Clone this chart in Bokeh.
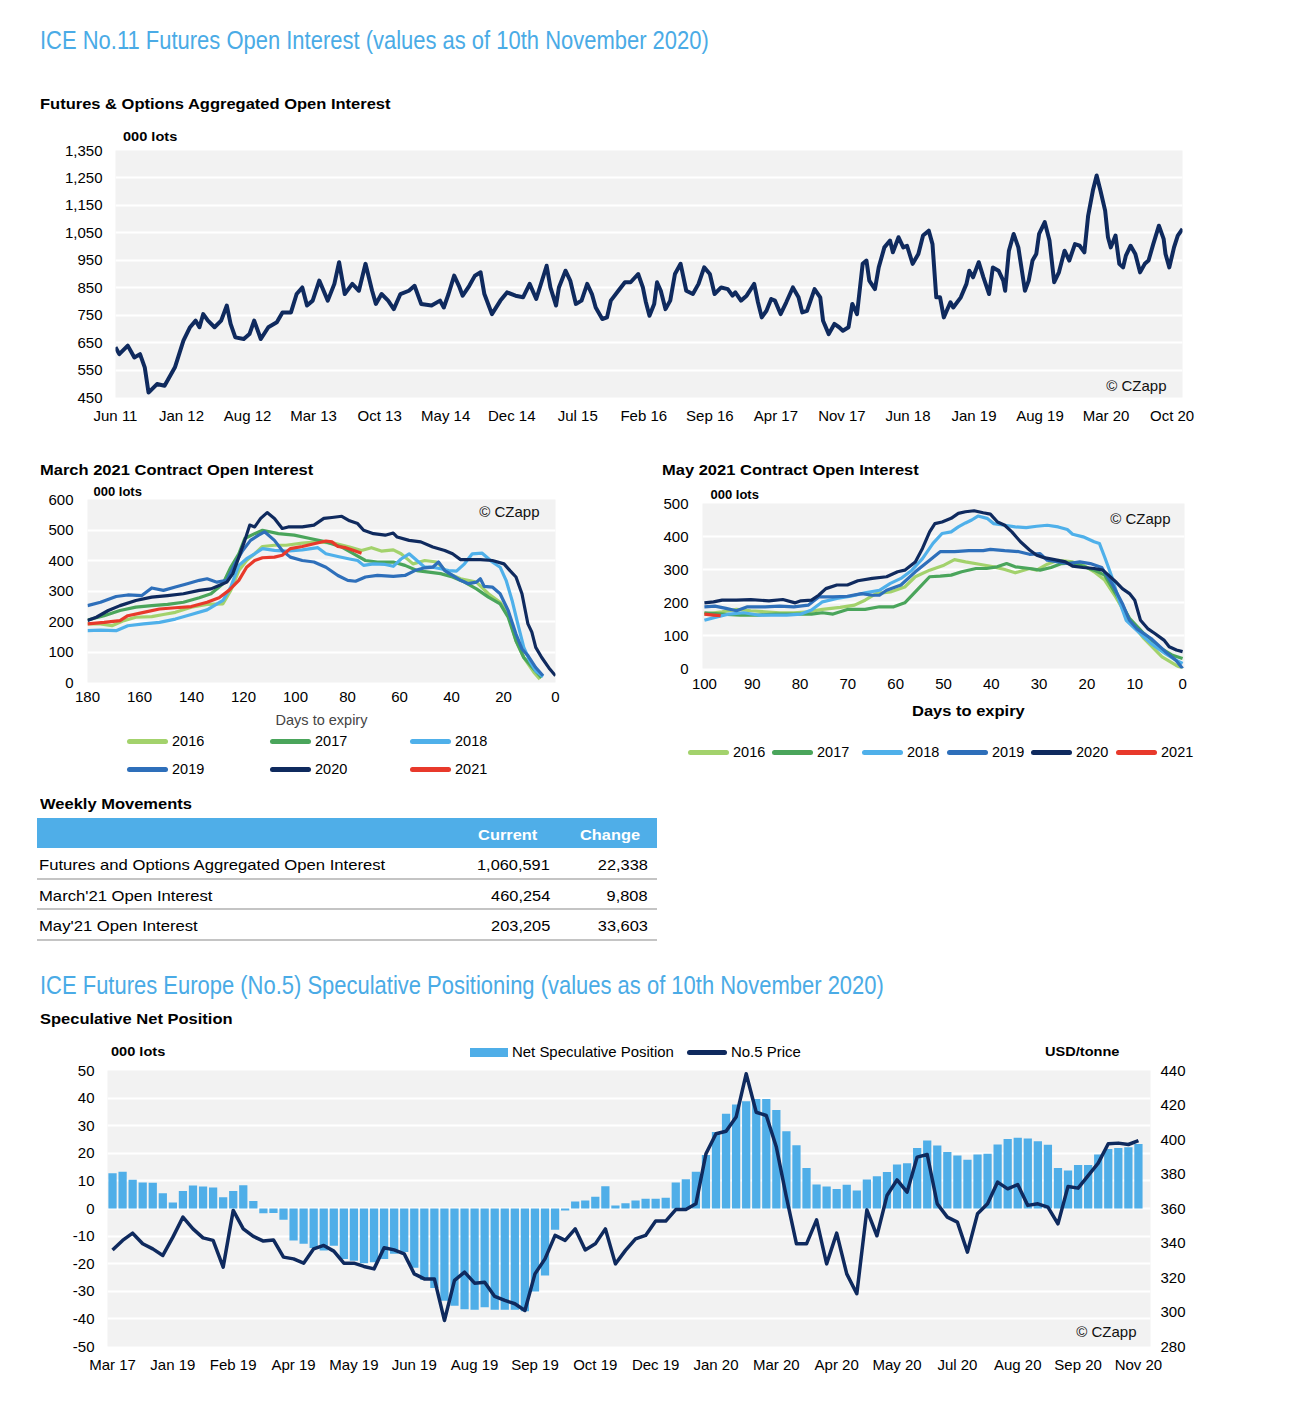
import html
from bokeh.plotting import figure
from bokeh.models import Range1d, LinearAxis, FixedTicker, NumeralTickFormatter, Label, Div, Title
from bokeh.layouts import column, row
from bokeh.embed import file_html
from bokeh.resources import INLINE

# ---------------- data ----------------
# Futures & options aggregated open interest (000 lots); x = months since Jun 2011
oi_month = [0.0, 0.4, 1.3, 2.0, 2.6, 3.1, 3.5, 4.4, 5.2, 6.3,
            7.2, 7.9, 8.5, 8.9, 9.3, 9.8, 10.5, 11.2, 11.8, 12.2,
            12.7, 13.6, 14.2, 14.7, 15.4, 16.2, 17.1, 17.7, 18.6, 19.2,
            19.8, 20.3, 20.9, 21.6, 22.5, 23.2, 23.7, 24.3, 25.1, 25.8,
            26.5, 27.2, 27.6, 28.2, 28.9, 29.5, 30.2, 31.1, 31.7, 32.4,
            33.5, 34.4, 34.8, 35.3, 35.9, 36.4, 36.8, 37.5, 38.1, 38.7,
            39.1, 39.9, 40.8, 41.5, 42.4, 43.2, 43.9, 44.6, 45.7, 46.1,
            46.7, 47.0, 47.7, 48.2, 48.8, 49.4, 50.0, 50.5, 50.9, 51.6,
            52.1, 52.5, 53.3, 54.0, 54.6, 55.4, 55.9, 56.2, 56.6, 57.1,
            57.4, 57.8, 58.3, 58.8, 59.3, 59.9, 60.5, 61.2, 61.8, 62.4,
            63.0, 63.5, 64.2, 64.9, 65.4, 65.7, 66.3, 66.9, 67.7, 68.1,
            68.5, 69.0, 69.5, 69.9, 70.5, 71.1, 71.8, 72.4, 72.8, 73.3,
            74.1, 74.7, 75.0, 75.6, 76.2, 76.7, 77.1, 77.7, 78.1, 78.6,
            79.2, 79.6, 79.9, 80.5, 80.9, 81.5, 82.1, 82.4, 83.0, 83.5,
            83.9, 84.5, 85.1, 85.6, 86.2, 86.6, 87.0, 87.4, 87.8, 88.5,
            88.8, 89.6, 90.2, 90.5, 90.9, 91.5, 92.0, 92.6, 93.0, 93.6,
            94.1, 94.3, 94.7, 95.2, 95.7, 96.4, 96.8, 97.2, 97.6, 97.9,
            98.5, 99.0, 99.5, 100.0, 100.6, 101.1, 101.7, 102.2, 102.7, 103.1,
            103.6, 104.0, 104.4, 104.9, 105.2, 105.5, 106.0, 106.4, 106.8, 107.1,
            107.6, 108.1, 108.6, 109.1, 109.5, 110.0, 110.6, 111.1, 111.3, 111.7,
            112.2, 112.6, 113.1]
oi_value = [633, 608, 639, 596, 608, 560, 468, 499, 493, 560,
            657, 706, 730, 706, 754, 730, 706, 730, 785, 718,
            669, 663, 681, 730, 663, 706, 724, 760, 760, 827,
            851, 785, 803, 876, 803, 864, 943, 827, 864, 839,
            937, 839, 791, 827, 803, 772, 827, 839, 857, 791,
            785, 803, 778, 827, 894, 857, 821, 857, 894, 906,
            827, 754, 803, 833, 821, 815, 864, 809, 930, 851,
            785, 851, 912, 876, 791, 803, 864, 827, 778, 736,
            742, 803, 839, 870, 870, 900, 851, 800, 748, 791,
            870, 839, 772, 803, 900, 937, 839, 827, 864, 924,
            900, 827, 851, 845, 821, 833, 803, 821, 864, 797,
            742, 766, 809, 803, 754, 797, 851, 815, 760, 766,
            845, 815, 730, 681, 718, 706, 693, 706, 791, 754,
            937, 949, 876, 845, 924, 997, 1022, 979, 1034, 997,
            1003, 937, 973, 1040, 1058, 1009, 815, 815, 742, 797,
            778, 815, 864, 912, 888, 943, 888, 827, 924, 912,
            876, 839, 985, 1046, 997, 839, 876, 949, 973, 1046,
            1089, 1022, 870, 906, 985, 949, 1009, 1003, 979, 1113,
            1204, 1259, 1204, 1131, 1034, 997, 1040, 937, 924, 967,
            1003, 973, 906, 937, 949, 1009, 1076, 1028, 973, 924,
            997, 1040, 1064]
oi_tick_labels = ["Jun 11", "Jan 12", "Aug 12", "Mar 13", "Oct 13", "May 14", "Dec 14",
                  "Jul 15", "Feb 16", "Sep 16", "Apr 17", "Nov 17", "Jun 18", "Jan 19",
                  "Aug 19", "Mar 20", "Oct 20"]

years = ["2016", "2017", "2018", "2019", "2020", "2021"]

# March 2021 contract open interest (000 lots) vs days to expiry
mar_days = {
    "2016": [180, 175, 170.6, 166, 161.4, 155.3, 150.8, 146.2, 140.1, 134, 127.9, 124.9, 121.8, 118.8,
             115.7, 112.7, 108.1, 103.6, 97.4, 91.4, 85.3, 79.2, 74.6, 70.8, 67, 62.4, 59.4, 54.8, 50.3,
             45.7, 41.1, 36.5, 30.4, 25.8, 21.3, 18.2, 15.2, 12.2, 8.3, 6],
    "2017": [180, 173.6, 167.5, 161.4, 155.3, 149.2, 143.1, 137, 132.5, 127.9, 124.9, 121.8, 119.5, 115.7,
             112.7, 106.6, 100.5, 94.4, 88.3, 82.2, 77.6, 73.1, 68.5, 62.4, 57.9, 53.3, 48.7, 44.2, 39.6,
             35, 30.4, 25.8, 21.3, 18.2, 15.2, 12.2, 8.3, 5.3],
    "2018": [180, 175, 169, 164.5, 158.4, 152.3, 146.2, 140.1, 134, 127.9, 124.9, 121.8, 118.8, 115.7,
             112.7, 108.1, 103.6, 97.4, 91.4, 88.3, 83.7, 79.2, 76.1, 73.8, 70, 65.5, 62.4, 59.4, 56.3,
             53.3, 50.3, 47.2, 44.2, 41.1, 38.1, 35, 32, 28.2, 24.3, 21.3, 19, 16.7, 14.5, 12.2, 9.9, 7.6, 4.8],
    "2019": [180, 175, 169, 164.5, 159.1, 155.3, 150.8, 146.2, 141.6, 137, 134, 130.2, 126.4, 123.3, 120.3,
             117.3, 114.2, 111.9, 108.1, 105.1, 102, 97.4, 92.9, 88.3, 83.7, 79.9, 76.9, 73.1, 68.5, 62.4,
             57.9, 54.1, 50.3, 47.2, 45, 42.6, 39.6, 36.5, 33.5, 30.4, 28.9, 27.4, 24.3, 21.3, 18.2, 15.2,
             12.9, 10.6, 7.6, 4.8],
    "2020": [180, 176.6, 172, 167.5, 161.4, 155.3, 149.2, 143.1, 137, 132.5, 129.4, 126.4, 124.1, 121.8,
             119.5, 117.6, 115.7, 113.4, 110.9, 108.1, 105.1, 102.8, 97.4, 92.9, 89.1, 86, 82.2, 79.2, 76.1,
             73.8, 70, 65.5, 62.4, 60.9, 56.3, 51.8, 47.2, 42.6, 39.6, 36.5, 33.5, 28.9, 24.3, 19.8, 17.5,
             15.2, 12.9, 10.6, 9.1, 7.6, 5.3, 2.2, 0],
    "2021": [180, 173.6, 167.5, 164.5, 158.4, 152.3, 146.2, 140.1, 134, 129.4, 125.6, 121.8, 118.8, 115.7,
             112.7, 108.1, 105.1, 102, 97.4, 92.9, 88.3, 86, 83.7, 80.7, 77.6, 74.6],
}
mar_oi = {
    "2016": [192, 192, 186, 203, 214, 216, 223, 230, 247, 256, 258, 302, 367, 400, 422, 446, 450, 450, 457,
             461, 457, 444, 433, 442, 431, 435, 422, 389, 400, 395, 357, 340, 329, 291, 263, 225, 137, 82, 33, 11],
    "2017": [205, 219, 236, 247, 252, 256, 263, 278, 291, 324, 378, 422, 472, 488, 499, 488, 483, 472, 461,
             444, 422, 400, 395, 395, 384, 367, 362, 357, 346, 329, 307, 280, 258, 214, 137, 82, 44, 16],
    "2018": [170, 172, 170, 186, 192, 197, 208, 223, 238, 269, 313, 384, 406, 422, 439, 433, 431, 435, 442,
             422, 413, 405, 400, 384, 389, 387, 381, 405, 422, 400, 378, 378, 373, 367, 365, 389, 422, 424,
             395, 378, 335, 269, 192, 115, 71, 38, 19],
    "2019": [252, 263, 282, 287, 285, 310, 302, 313, 324, 335, 340, 329, 335, 389, 433, 466, 483, 494, 466,
             433, 411, 400, 395, 378, 351, 335, 332, 346, 351, 348, 351, 367, 376, 378, 395, 367, 351, 335,
             324, 329, 340, 315, 313, 291, 236, 159, 110, 88, 49, 22],
    "2020": [203, 214, 236, 252, 269, 280, 285, 291, 302, 307, 318, 329, 357, 411, 466, 516, 510, 538, 557,
             538, 505, 510, 510, 516, 538, 541, 545, 530, 521, 499, 488, 483, 490, 477, 466, 461, 444, 433,
             422, 403, 403, 403, 400, 389, 367, 346, 291, 192, 165, 115, 82, 44, 22],
    "2021": [192, 197, 203, 219, 230, 241, 245, 249, 263, 278, 302, 335, 378, 400, 409, 411, 417, 439, 446,
             455, 464, 461, 446, 442, 433, 424],
}

# May 2021 contract open interest (000 lots) vs days to expiry
may_days = {
    "2016": [100, 96.3, 93.3, 90.3, 87.3, 84.3, 81.3, 78.3, 75.3, 71.6, 68.6, 66.4, 64.1, 61.1, 58.1, 55.9,
             52.9, 49.9, 47.7, 45.4, 42.5, 39.5, 37.2, 35, 32, 30.5, 28.3, 26, 23, 20.8, 18.5, 16.3, 14, 11.1,
             8.1, 4.3, 1.4, 0],
    "2017": [100, 96.3, 92.5, 88.8, 85.1, 81.3, 77.6, 75.3, 73.1, 70.1, 66.4, 63.4, 60.4, 58.1, 55.9, 52.9,
             50.7, 48.4, 46.2, 43.2, 41, 38.8, 36.8, 35, 32, 29.8, 27.5, 25.3, 23, 20.8, 18.5, 16.3, 14, 11.1,
             8.1, 5.1, 2.1, 0],
    "2018": [100, 97.8, 94.8, 91.8, 88.8, 85.8, 82.8, 79.8, 77.6, 75.3, 72.3, 69.4, 66.4, 63.4, 61.1, 58.9,
             56.6, 54.4, 52.2, 50.3, 48.4, 46.9, 45.4, 44.1, 42.8, 40.9, 39.5, 37.2, 35, 32.7, 30.5, 28.3, 26,
             24.1, 23, 20.8, 18.5, 17.4, 16.3, 14.8, 13.3, 11.8, 9.6, 6.6, 3.6, 1.4, 0],
    "2019": [100, 97.8, 95.5, 93.3, 91, 87.3, 84.3, 81.3, 78.3, 76.1, 73.1, 70.1, 67.1, 64.9, 63.4, 61.9,
             58.9, 55.9, 52.9, 50.7, 47.7, 44.7, 41.7, 40.2, 37.2, 34.2, 32, 29.8, 28.3, 26, 23.8, 21.5, 19.3,
             16.9, 14.8, 12.6, 11.1, 9.6, 6.6, 3.6, 1.4, 0],
    "2020": [100, 98.1, 96.3, 93.3, 90.3, 86.5, 83.6, 81, 79.8, 77.6, 76.1, 74.6, 72.3, 70.1, 67.9, 64.9,
             61.9, 59.6, 58.1, 55.9, 54.4, 52.9, 51.8, 50.3, 48.4, 46.9, 45.4, 43.6, 41.7, 40.2, 38.7, 37.2,
             35.7, 33.9, 32, 30.5, 29, 26.8, 24.5, 23, 20.8, 18.5, 16.7, 15.5, 14, 12.6, 11.1, 10, 8.8, 7.3,
             5.8, 3.9, 2.8, 1.3, 0],
    "2021": [100, 98.1, 96.6],
}
may_oi = {
    "2016": [165, 172, 179, 175, 172, 169, 169, 172, 179, 185, 192, 207, 227, 232, 247, 278, 298, 313, 330,
             323, 316, 308, 300, 290, 303, 298, 316, 328, 323, 313, 293, 268, 217, 146, 91, 35, 10, 0],
    "2017": [169, 165, 162, 162, 165, 165, 165, 169, 165, 179, 179, 187, 187, 199, 232, 278, 280, 283, 293,
             303, 303, 308, 318, 308, 303, 298, 306, 318, 320, 310, 298, 283, 227, 152, 106, 66, 40, 30],
    "2018": [146, 155, 165, 169, 162, 162, 162, 165, 177, 202, 212, 219, 229, 237, 258, 273, 298, 333, 379,
             409, 414, 429, 441, 450, 462, 455, 439, 434, 429, 427, 431, 434, 429, 421, 407, 399, 384, 379,
             338, 278, 207, 146, 116, 76, 45, 25, 15],
    "2019": [187, 189, 182, 175, 187, 187, 189, 187, 192, 217, 217, 219, 227, 222, 222, 237, 253, 293, 328,
             354, 354, 357, 357, 361, 357, 354, 346, 348, 328, 323, 318, 323, 318, 306, 258, 197, 146, 121,
             91, 51, 25, 0],
    "2020": [199, 202, 207, 207, 209, 205, 209, 199, 205, 207, 222, 242, 253, 253, 266, 273, 278, 293, 298,
             323, 364, 414, 439, 444, 455, 470, 475, 478, 472, 468, 444, 434, 414, 384, 359, 343, 336, 330,
             323, 310, 306, 303, 298, 283, 263, 242, 227, 207, 146, 121, 106, 86, 66, 56, 51],
    "2021": [165, 162, 160],
}

# Weekly movements table
table_rows = ["Futures and Options Aggregated Open Interest", "March'21 Open Interest", "May'21 Open Interest"]
table_current = ["1,060,591", "460,254", "203,205"]
table_change = ["22,338", "9,808", "33,603"]
table_headers = ["Current", "Change"]

# Speculative net position (000 lots, weekly) and No.5 price (USD/tonne)
net_spec = [12.8, 13.3, 10.4, 9.4, 9.3, 5.5, 2.2, 6.3, 8.3, 8.0,
            7.6, 4.1, 6.3, 8.4, 2.7, -1.7, -1.6, -4.1, -11.6, -12.8,
            -14.3, -15.2, -13.5, -18.3, -18.9, -19.8, -19.5, -18.3, -16.4, -15.8,
            -21.5, -25.9, -28.8, -33.4, -35.2, -36.5, -36.7, -35.8, -36.7, -36.7,
            -36.7, -37.2, -30.1, -24.3, -7.7, -0.7, 2.5, 2.9, 4.3, 8.1,
            1.1, 1.9, 2.9, 3.5, 3.5, 3.9, 9.4, 10.6, 13.3, 19.4,
            27.7, 34.3, 37.7, 38.9, 39.7, 39.7, 35.7, 28.0, 22.9, 14.7,
            8.7, 8.0, 7.1, 8.6, 6.5, 10.5, 11.7, 13.2, 15.9, 16.4,
            21.9, 24.6, 22.8, 20.5, 19.2, 17.7, 19.6, 19.8, 23.2, 25.2,
            25.6, 25.4, 24.4, 23.1, 14.7, 13.8, 15.8, 15.8, 19.6, 21.6,
            21.9, 22.2, 23.4]
no5_price = [336.0, 341.5, 345.7, 339.6, 336.6, 332.8, 343.4, 355.0, 348.2, 343.0,
             341.5, 326.0, 358.9, 348.2, 343.8, 341.1, 341.8, 331.8, 330.8, 328.3,
             336.6, 338.6, 335.3, 328.3, 328.3, 326.4, 325.0, 337.2, 336.0, 333.7,
             322.1, 319.2, 319.2, 295.1, 318.3, 323.1, 316.7, 317.3, 309.0, 306.7,
             304.8, 300.9, 322.1, 330.8, 344.4, 341.5, 348.2, 336.0, 339.5, 348.2,
             327.9, 335.7, 342.4, 344.4, 352.7, 352.7, 359.4, 359.4, 362.7, 391.7,
             403.3, 404.8, 413.0, 438.1, 415.8, 413.9, 395.6, 366.6, 339.5, 339.5,
             353.4, 327.9, 345.7, 322.1, 310.6, 359.2, 344.2, 367.5, 376.6, 369.5,
             389.8, 391.3, 362.7, 355.0, 352.1, 334.7, 356.9, 362.7, 375.3, 371.4,
             373.9, 361.8, 362.7, 360.8, 351.1, 372.8, 371.8, 379.1, 386.3, 397.5,
             397.9, 397.1, 399.4]
spec_tick_labels = ["Mar 17", "Jan 19", "Feb 19", "Apr 19", "May 19", "Jun 19", "Aug 19", "Sep 19",
                    "Oct 19", "Dec 19", "Jan 20", "Mar 20", "Apr 20", "May 20", "Jul 20", "Aug 20",
                    "Sep 20", "Nov 20"]
spec_legend = ["Net Speculative Position", "No.5 Price"]

# ---------------- styling ----------------
FONT = "Liberation Sans"
NAVY = "#0f2a5e"
LB = "#4faee8"
TITLE_C = "#4aabe6"
COLORS = {"2016": "#a3d26c", "2017": "#4aa55b", "2018": "#4fb0ea",
          "2019": "#2e6fba", "2020": NAVY, "2021": "#e8392b"}


def style(p, y_standoff=12, x_standoff=8):
    p.background_fill_color = "#f2f2f2"
    p.border_fill_color = "white"
    p.outline_line_color = None
    p.title.text = ""
    for ax in p.axis:
        ax.axis_line_color = None
        ax.major_tick_line_color = None
        ax.minor_tick_line_color = None
        ax.major_tick_out = 0
        ax.major_tick_in = 0
        ax.major_label_text_font = FONT
        ax.major_label_text_font_size = "15px"
        ax.major_label_text_color = "#000000"
    for ax in p.yaxis:
        ax.major_label_standoff = y_standoff
    for ax in p.xaxis:
        ax.major_label_standoff = x_standoff
    p.xgrid.grid_line_color = None
    p.ygrid.grid_line_color = "white"
    p.ygrid.grid_line_width = 2


def czapp(p, x, y):
    p.add_layout(Label(x=x, y=y, x_units="screen", y_units="screen", text="© CZapp",
                       text_font=FONT, text_font_size="15px", text_color="#111111",
                       text_align="right", text_baseline="middle"))


def lots_title(p, offset, standoff):
    p.add_layout(Title(text="000 lots", align="left", offset=offset, text_font=FONT,
                       text_font_size="13px", text_font_style="bold", text_color="#000000",
                       standoff=standoff), "above")


# ---- html helpers for the texts that sit outside the plot frames ----
def span(x, yc, text, size=15, bold=False, color="#000", lh=None, right=False, sx=1.0):
    lh = lh or round(size * 1.2)
    pos = f"right:{x}px;" if right else f"left:{x}px;"
    tr = ""
    if sx != 1.0:
        tr = f"transform:scaleX({sx});transform-origin:{'100%' if right else '0'} 50%;"
    return (f'<span style="position:absolute;{pos}top:{yc - lh / 2}px;line-height:{lh}px;'
            f'font-size:{size}px;font-weight:{"bold" if bold else "normal"};color:{color};'
            f'white-space:nowrap;{tr}">{html.escape(text)}</span>')


def box(x, yc, w, h, color, radius=0):
    return (f'<div style="position:absolute;left:{x}px;top:{yc - h / 2}px;width:{w}px;height:{h}px;'
            f'background:{color};border-radius:{radius}px"></div>')


def panel(parts, w, h):
    inner = "".join(parts)
    return Div(text=(f'<div style="position:relative;width:{w}px;height:{h}px;overflow:visible;'
                     f"font-family:'Liberation Sans',Arial,sans-serif\">{inner}</div>"),
               width=w, height=h, margin=0)


SUB = dict(size=15, bold=True, sx=1.1)     # chart sub-titles
LOTS = dict(size=13, bold=True, sx=1.12)   # small unit captions
BIG = dict(size=26, color=TITLE_C, lh=32, sx=0.845)

# ---------------- page header + top chart ----------------
div1 = panel([
    span(40, 40, "ICE No.11 Futures Open Interest (values as of 10th November 2020)", **BIG),
    span(40, 104, "Futures & Options Aggregated Open Interest", **SUB),
    span(123, 136.5, "000 lots", lh=12, **LOTS),
], 1304, 142)

p1 = figure(width=1304, height=298, x_range=Range1d(0, 113.1), y_range=Range1d(450, 1350),
            output_backend="svg", toolbar_location=None,
            min_border_left=115, min_border_right=122, min_border_top=8, min_border_bottom=43)
style(p1, y_standoff=13, x_standoff=9)
p1.line(oi_month, oi_value, line_color=NAVY, line_width=4, line_join="round")
p1.yaxis.ticker = FixedTicker(ticks=list(range(450, 1351, 100)))
p1.yaxis.formatter = NumeralTickFormatter(format="0,0")
oi_ticks = [7 * i for i in range(len(oi_tick_labels))]
p1.xaxis.ticker = FixedTicker(ticks=oi_ticks)
p1.xaxis.major_label_overrides = {t: l for t, l in zip(oi_ticks, oi_tick_labels)}
czapp(p1, 1051, 12)

# ---------------- March chart ----------------
div2a = panel([span(40, 30, "March 2021 Contract Open Interest", **SUB)], 650, 40)

p2 = figure(width=650, height=251, x_range=Range1d(180, 0), y_range=Range1d(0, 600),
            output_backend="svg", toolbar_location=None,
            min_border_left=87, min_border_right=95, min_border_top=19, min_border_bottom=49)
style(p2, y_standoff=14, x_standoff=9)
lots_title(p2, 6, 1)
p2.yaxis.ticker = FixedTicker(ticks=list(range(0, 601, 100)))
p2.xaxis.ticker = FixedTicker(ticks=list(range(0, 181, 20)))
p2.xaxis.axis_label = "Days to expiry"
p2.xaxis.axis_label_text_font = FONT
p2.xaxis.axis_label_text_font_size = "14.5px"
p2.xaxis.axis_label_text_font_style = "normal"
p2.xaxis.axis_label_standoff = 7
for yr in years:
    p2.line(mar_days[yr], mar_oi[yr], line_color=COLORS[yr], line_width=3.2, line_join="round")
czapp(p2, 452, 171)

mar_leg_x = [127, 270, 410]
mar_leg_y = [10, 38]
parts = []
for k, yr in enumerate(years):
    x0 = mar_leg_x[k % 3]
    yc = mar_leg_y[k // 3]
    parts.append(box(x0, yc, 41, 5, COLORS[yr], 3))
    parts.append(span(x0 + 45, yc, yr, size=14.5))
div3a = panel(parts, 650, 54)

# ---------------- May chart ----------------
div2b = panel([span(12, 30, "May 2021 Contract Open Interest", **SUB)], 654, 40)

p3 = figure(width=654, height=220, x_range=Range1d(100.4, -0.4), y_range=Range1d(0, 500),
            output_backend="svg", toolbar_location=None,
            min_border_left=52, min_border_right=120, min_border_top=23, min_border_bottom=32)
style(p3, y_standoff=14, x_standoff=10)
lots_title(p3, 8, 4)
p3.yaxis.ticker = FixedTicker(ticks=list(range(0, 501, 100)))
p3.xaxis.ticker = FixedTicker(ticks=list(range(0, 101, 10)))
for yr in years:
    p3.line(may_days[yr], may_oi[yr], line_color=COLORS[yr], line_width=3.2, line_join="round")
czapp(p3, 468, 150)

may_leg_x = [38, 122, 212, 297, 381, 466]
parts = [span(262, 11, "Days to expiry", **SUB)]
for k, yr in enumerate(years):
    parts.append(box(may_leg_x[k], 52, 41, 5, COLORS[yr], 3))
    parts.append(span(may_leg_x[k] + 45, 52, yr, size=14.5))
div3b = panel(parts, 654, 85)

# ---------------- table, second header, legend ----------------
W = 1304
parts = [span(40, 19, "Weekly Movements", **SUB),
         box(37, 48, 620, 30, LB)]
parts.append(span(W - 537, 50, table_headers[0], size=15, bold=True, color="white", right=True, sx=1.09))
parts.append(span(W - 640, 50, table_headers[1], size=15, bold=True, color="white", right=True, sx=1.09))
for k, (nm, cur, chg) in enumerate(zip(table_rows, table_current, table_change)):
    yc = 80 + 30.5 * k
    parts.append(span(39, yc, nm, size=15, sx=1.11))
    parts.append(span(W - 550, yc, cur, size=15, right=True, sx=1.09))
    parts.append(span(W - 648, yc, chg, size=15, right=True, sx=1.09))
    parts.append(box(37, yc + 13.5, 620, 2, "#c4c4c4"))
parts.append(span(40, 200, "ICE Futures Europe (No.5) Speculative Positioning (values as of 10th November 2020)",
                  **BIG))
parts.append(span(40, 234, "Speculative Net Position", **SUB))
parts.append(span(111, 267, "000 lots", **LOTS))
parts.append(span(1045, 267, "USD/tonne", **LOTS))
parts.append(box(470, 267, 38, 9, LB))
parts.append(span(512, 267, spec_legend[0], size=14.5, sx=1.03))
parts.append(box(687, 267, 40, 5, NAVY, 3))
parts.append(span(731, 267, spec_legend[1], size=14.5, sx=1.03))
div4 = panel(parts, W, 276)

# ---------------- speculative chart ----------------
idx = list(range(len(net_spec)))
p4 = figure(width=1304, height=353, x_range=Range1d(-0.5, 103.2), y_range=Range1d(-50, 50),
            output_backend="svg", toolbar_location=None,
            min_border_left=107, min_border_right=154, min_border_top=9, min_border_bottom=68)
p4.extra_y_ranges = {"price": Range1d(280, 440)}
p4.add_layout(LinearAxis(y_range_name="price", ticker=FixedTicker(ticks=list(range(280, 441, 20)))),
              "right")
style(p4, y_standoff=13, x_standoff=9)
p4.yaxis[0].ticker = FixedTicker(ticks=list(range(-50, 51, 10)))
p4.yaxis[0].formatter = NumeralTickFormatter(format="0")
p4.yaxis[1].major_label_standoff = 10
spec_ticks = [6 * i for i in range(len(spec_tick_labels))]
p4.xaxis.ticker = FixedTicker(ticks=spec_ticks)
p4.xaxis.major_label_overrides = {t: l for t, l in zip(spec_ticks, spec_tick_labels)}
p4.vbar(x=idx, top=net_spec, bottom=0, width=0.82, fill_color=LB, line_color=None)
p4.line(idx, no5_price, y_range_name="price", line_color=NAVY, line_width=3.5, line_join="round")
czapp(p4, 1029, 15)

layout = column(div1, row(p1), row(column(div2a, p2, div3a), column(div2b, p3, div3b)), div4, row(p4))
open("out.html", "w").write(file_html(layout, INLINE))
